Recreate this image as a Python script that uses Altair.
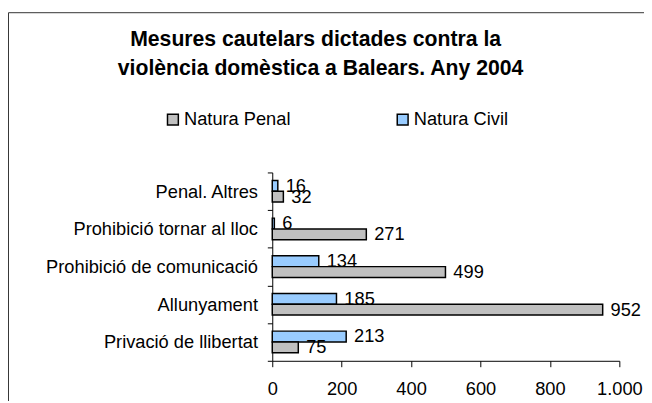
import altair as alt
import pandas as pd

categories = ["Penal. Altres", "Prohibició tornar al lloc", "Prohibició de comunicació",
              "Allunyament", "Privació de llibertat"]
penal = [32, 271, 499, 952, 75]
civil = [16, 6, 134, 185, 213]
series = ["Natura Penal", "Natura Civil"]
colors = ["#C0C0C0", "#99CCFF"]
x_ticks = [0, 200, 400, 600, 800, 1000]
title_lines = ["Mesures cautelars dictades contra la", "violència domèstica a Balears. Any 2004"]

rows = []
for c, p, v in zip(categories, penal, civil):
    rows.append({"cat": c, "serie": "Natura Civil", "val": v})
    rows.append({"cat": c, "serie": "Natura Penal", "val": p})
df = pd.DataFrame(rows)

FONT = "Liberation Sans"
W, H = 352, 191
PAD_L, PAD_T = 268, 164

y_enc = alt.Y("cat:N", sort=categories,
              scale=alt.Scale(paddingInner=0, paddingOuter=0),
              axis=alt.Axis(title=None, tickBand="extent", labelFont=FONT, labelFontSize=18.5,
                            labelColor="black", domainColor="black", tickColor="black",
                            tickSize=5, labelPadding=10, labelLimit=400))
yoff = alt.YOffset("serie:N", sort=["Natura Civil", "Natura Penal"],
                   scale=alt.Scale(paddingOuter=0.74, paddingInner=0))
x_enc = alt.X("val:Q", scale=alt.Scale(domain=[0, 1000], nice=False),
              axis=alt.Axis(title=None, values=x_ticks, grid=False, labelFlush=False,
                            labelOverlap=False,
                            labelExpr="replace(format(datum.value, ','), ',', '.')",
                            labelFont=FONT, labelFontSize=18.5, labelColor="black",
                            domainColor="black", tickColor="black", tickSize=6,
                            labelPadding=13))

bars = alt.Chart(df).mark_bar(stroke="black", strokeWidth=1.5).encode(
    x=x_enc, y=y_enc, yOffset=yoff,
    color=alt.Color("serie:N", scale=alt.Scale(domain=series, range=colors),
                    legend=alt.Legend(title=None, orient="none", legendX=-110, legendY=-63,
                                      direction="horizontal", symbolType="square",
                                      symbolSize=121, symbolStrokeColor="black",
                                      symbolStrokeWidth=1.5, labelFont=FONT,
                                      labelFontSize=18.5, labelColor="black",
                                      labelOffset=2, columnPadding=104)),
)

labels = alt.Chart(df).mark_text(align="left", baseline="middle", dx=8, fontSize=18.5,
                                 font=FONT, color="black").encode(
    x="val:Q", y=alt.Y("cat:N", sort=categories),
    yOffset=alt.YOffset("serie:N", sort=["Natura Civil", "Natura Penal"]),
    text="val:Q",
)

one = pd.DataFrame({"a": [0]})
# outer chart frame (decoration)
frame_top = alt.Chart(one).mark_rule(color="#333333", strokeWidth=1).encode(
    x=alt.value(-PAD_L + 0.5), x2=alt.value(400), y=alt.value(-PAD_T + 2))
frame_left = alt.Chart(one).mark_rule(color="#333333", strokeWidth=1).encode(
    x=alt.value(-PAD_L + 0.5), y=alt.value(-PAD_T + 2), y2=alt.value(240))

# two-line title as text
title1 = alt.Chart(one).mark_text(text=title_lines[0], font=FONT, fontSize=21.5,
                                  fontWeight="bold", color="black", align="center",
                                  baseline="middle").encode(
    x=alt.value(320 - 8 - PAD_L), y=alt.value(38 - 8 - PAD_T))
title2 = alt.Chart(one).mark_text(text=title_lines[1], font=FONT, fontSize=21.5,
                                  fontWeight="bold", color="black", align="center",
                                  baseline="middle").encode(
    x=alt.value(325 - 8 - PAD_L), y=alt.value(67 - 8 - PAD_T))

chart = alt.layer(bars, labels, frame_top, frame_left, title1, title2).properties(
    width=W, height=H,
    padding={"left": PAD_L, "top": PAD_T, "right": 25, "bottom": 38},
    autosize=alt.AutoSizeParams(type="none"),
).configure_view(stroke=None)

chart.save("out.html", embed_options={"renderer": "svg", "actions": False})
